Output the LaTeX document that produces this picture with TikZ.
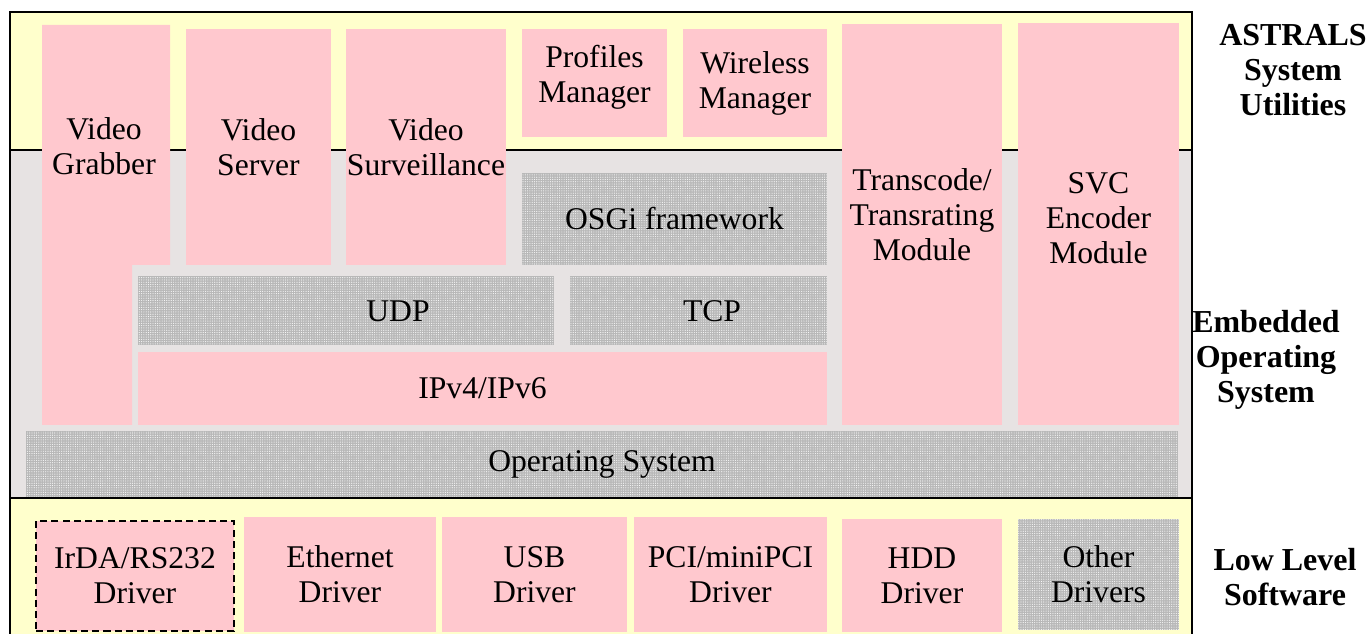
\documentclass[tikz,border=0pt]{standalone}
\usepackage{fontspec}
\setmainfont{Liberation Serif}
\usepackage{tikz}
\usetikzlibrary{patterns,positioning}
\definecolor{boxpink}{RGB}{255,200,206}
\definecolor{bandyellow}{RGB}{255,255,204}
\definecolor{bandgrey}{RGB}{231,227,227}
\definecolor{dotgrey}{RGB}{184,184,184}
\pgfdeclarepatternformonly{tinydots}{\pgfqpoint{-0.4pt}{-0.4pt}}{\pgfqpoint{0.4pt}{0.4pt}}{\pgfqpoint{1.3pt}{1.3pt}}{%
  \pgfpathcircle{\pgforigin}{0.33pt}\pgfusepath{fill}}

\begin{document}
\begin{tikzpicture}[x=0.02cm, y=-0.02cm,
    every node/.style={font=\fontsize{18}{19.9}\selectfont, align=center, inner sep=0pt},
    band/.style={draw=black, line width=0.8pt, minimum width=23.64cm},
    pinkbox/.style={fill=boxpink},
    dotbox/.style={fill=dotgrey, postaction={pattern=tinydots, pattern color=white!90!dotgrey}},
    layer/.style={font=\fontsize{18.2}{19.9}\selectfont\bfseries}]
    \useasboundingbox (0,0) rectangle (1370,634);
    \clip (0,0) rectangle (1370,634);

    % Layers
    \node[band, fill=bandyellow, minimum height=2.76cm] (util) at (601,81) {};
    \node[band, fill=bandgrey, minimum height=6.96cm] (embos) at (601,324) {};
    \node[band, fill=bandyellow, minimum height=3.04cm] (lowsw) at (601,574) {};

    % System utilities
    \fill[pinkbox] (42,25) -- (170,25) -- (170,265) -- (132,265) -- (132,425) -- (42,425) -- cycle;
    \node (grab) at (104,146) {Video\\Grabber};
    \node[pinkbox, minimum width=2.90cm, minimum height=4.72cm] (serv) at (258.5,147) {Video\\Server};
    \node[pinkbox, minimum width=3.20cm, minimum height=4.72cm] (surv) at (426,147) {Video\\Surveillance};
    \node[pinkbox, minimum width=2.90cm, minimum height=2.16cm] (prof) at (594.5,83) {};
    \node (prof-l) at (594.5,77) {Profiles\\Manager};
    \node[pinkbox, minimum width=2.88cm, minimum height=2.16cm] (wire) at (755,83) {Wireless\\Manager};
    \node[pinkbox, minimum width=3.20cm, minimum height=8.02cm] (trans) at (922,224.5) {};
    \node (trans-l) at (922,215) {Transcode/\\Transrating\\Module};
    \node[pinkbox, minimum width=3.22cm, minimum height=8.04cm] (svc) at (1098.5,224) {};
    \node (svc-l) at (1098.5,218) {SVC\\Encoder\\Module};

    % Embedded OS
    \node[dotbox, minimum width=6.10cm, minimum height=1.84cm] (osgi) at (674.5,219) {OSGi framework};
    \node[dotbox, minimum width=8.32cm, minimum height=1.38cm] (udp) at (346,310.5) {};
    \node (udp-l) at (398,311) {UDP};
    \node[dotbox, minimum width=5.14cm, minimum height=1.38cm] (tcp) at (698.5,310.5) {};
    \node (tcp-l) at (712,311) {TCP};
    \node[pinkbox, minimum width=13.78cm, minimum height=1.46cm] (ipv) at (482.5,388.5) {IPv4/IPv6};
    \node[dotbox, minimum width=23.04cm, minimum height=1.32cm] (os) at (602,464) {Operating System};

    % Drivers
    \node[pinkbox, draw=black, line width=0.8pt, dash pattern=on 4pt off 2.4pt, minimum width=3.96cm, minimum height=2.20cm] (irda) at (135,576) {IrDA/RS232\\Driver};
    \node[pinkbox, minimum width=3.84cm, minimum height=2.30cm] (eth) at (340,574.5) {Ethernet\\Driver};
    \node[pinkbox, minimum width=3.70cm, minimum height=2.30cm] (usb) at (534.5,574.5) {USB\\Driver};
    \node[pinkbox, minimum width=3.86cm, minimum height=2.30cm] (pci) at (730.5,574.5) {PCI/miniPCI\\Driver};
    \node[pinkbox, minimum width=3.20cm, minimum height=2.26cm] (hdd) at (922,575.5) {HDD\\Driver};
    \node[dotbox, minimum width=3.22cm, minimum height=2.22cm] (oth) at (1098.5,574.5) {Other\\Drivers};

    % Labels
    \node[layer] (util-l) at (1293,70) {ASTRALS\\System\\Utilities};
    \node[layer] (embos-l) at (1266,360) {Embedded\\Operating\\System};
    \node[layer] (lowsw-l) at (1285,577) {Low Level\\Software};
\end{tikzpicture}
\end{document}
